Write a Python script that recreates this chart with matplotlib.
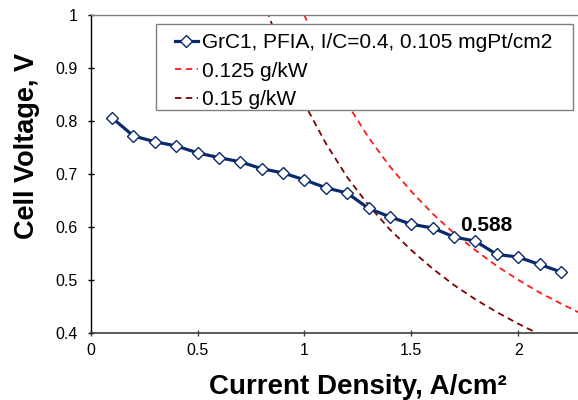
import matplotlib
matplotlib.use("Agg")
import matplotlib.pyplot as plt
from matplotlib.patches import Rectangle

plt.rcParams['font.family'] = ['Liberation Sans', 'DejaVu Sans']

# Measured polarization curve
current = [0.1, 0.2, 0.3, 0.4, 0.5, 0.6, 0.7, 0.8, 0.9, 1.0, 1.1,
           1.2, 1.3, 1.4, 1.5, 1.6, 1.7, 1.8, 1.9, 2.0, 2.1, 2.2]
voltage = [0.806, 0.772, 0.761, 0.753, 0.740, 0.731, 0.723, 0.710, 0.702,
           0.689, 0.674, 0.664, 0.635, 0.619, 0.605, 0.598, 0.581, 0.573,
           0.548, 0.543, 0.529, 0.515]

# Iso-loading line 0.125 g/kW
red_x = [0.98, 1.0, 1.05, 1.1, 1.15, 1.2, 1.3, 1.4, 1.5, 1.6, 1.7, 1.8,
         1.9, 2.0, 2.1, 2.2, 2.3]
red_y = [1.020, 1.000, 0.952, 0.909, 0.870, 0.833, 0.769, 0.714, 0.667,
         0.625, 0.588, 0.556, 0.526, 0.500, 0.476, 0.455, 0.435]

# Iso-loading line 0.15 g/kW
dred_x = [0.81, 0.833, 0.87, 0.9, 0.95, 1.0, 1.1, 1.2, 1.3, 1.4, 1.5, 1.6,
          1.7, 1.8, 1.9, 2.0, 2.1, 2.15]
dred_y = [1.028, 1.000, 0.958, 0.926, 0.877, 0.833, 0.758, 0.694, 0.641,
          0.595, 0.556, 0.521, 0.490, 0.463, 0.439, 0.417, 0.397, 0.388]

series_label = "GrC1, PFIA, I/C=0.4, 0.105 mgPt/cm2"
red_label = "0.125 g/kW"
dred_label = "0.15 g/kW"
annot_text = "0.588"
annot_x, annot_y = 1.728, 0.592

xticks = [0, 0.5, 1, 1.5, 2]
xtick_labels = ["0", "0.5", "1", "1.5", "2"]
yticks = [0.4, 0.5, 0.6, 0.7, 0.8, 0.9, 1.0]
ytick_labels = ["0.4", "0.5", "0.6", "0.7", "0.8", "0.9", "1"]

W, H = 578, 400
AX_L, AX_R, AX_T, AX_B = 90.7, 578.0, 15.3, 332.7


def fx(px):
    return (px - AX_L) / (AX_R - AX_L)


def fy(py):
    return (AX_B - py) / (AX_B - AX_T)


fig = plt.figure(figsize=(W / 100, H / 100), dpi=100)
ax = fig.add_axes([AX_L / W, 1 - AX_B / H, (AX_R - AX_L) / W, (AX_B - AX_T) / H])

ax.plot(current, voltage, color='#0B2A6B', lw=2.3, marker='D', ms=6.2,
        mfc='white', mec='#0B2A6B', mew=1.0, label=series_label, zorder=3)
ax.plot(red_x, red_y, color='#FF1A1A', lw=1.3, ls=(0, (3.5, 2.5)),
        label=red_label, zorder=2)
ax.plot(dred_x, dred_y, color='#7F0000', lw=1.3, ls=(0, (3.5, 2.5)),
        label=dred_label, zorder=2)

ax.text(annot_x, annot_y, annot_text, fontsize=15,
        fontweight='bold', ha='left', va='baseline', color='black')

ax.set_xlim(0, 2.28)
ax.set_ylim(0.4, 1.0)
ax.set_xticks(xticks)
ax.set_xticklabels(xtick_labels)
ax.set_yticks(yticks)
ax.set_yticklabels(ytick_labels)
ax.tick_params(direction='inout', length=5, width=1, labelsize=11.5,
               colors='black')
ax.tick_params(axis='y', pad=7)
ax.tick_params(axis='x', colors='#404040', labelcolor='black', pad=5)

ax.spines['right'].set_visible(False)
ax.spines['top'].set_color('#808080')
ax.spines['top'].set_linewidth(1)
ax.spines['left'].set_color('black')
ax.spines['left'].set_linewidth(1)
ax.spines['bottom'].set_color('#404040')
ax.spines['bottom'].set_linewidth(1.2)

ax.set_xlabel("Current Density, A/cm\u00b2", fontsize=20, fontweight='bold')
ax.xaxis.label.set_va('baseline')
ax.xaxis.set_label_coords(fx(357.5), fy(394))
ax.set_ylabel("Cell Voltage, V", fontsize=19.5, fontweight='bold')
ax.yaxis.label.set_va('center')
ax.yaxis.set_label_coords(fx(26.5), fy(146))

# legend box
box = Rectangle((fx(156), fy(110)), fx(573) - fx(156), fy(24) - fy(110),
                transform=ax.transAxes, facecolor='white', edgecolor='#808080',
                lw=1, zorder=4, clip_on=False)
ax.add_patch(box)

leg = ax.legend(loc='upper left', bbox_to_anchor=(fx(175), fy(33.4)),
                fontsize=15, frameon=False, handlelength=1.1,
                handletextpad=0.2, borderpad=0, labelspacing=0.45,
                borderaxespad=0)
leg.set_zorder(5)

fig.savefig("out.png", dpi=100)
